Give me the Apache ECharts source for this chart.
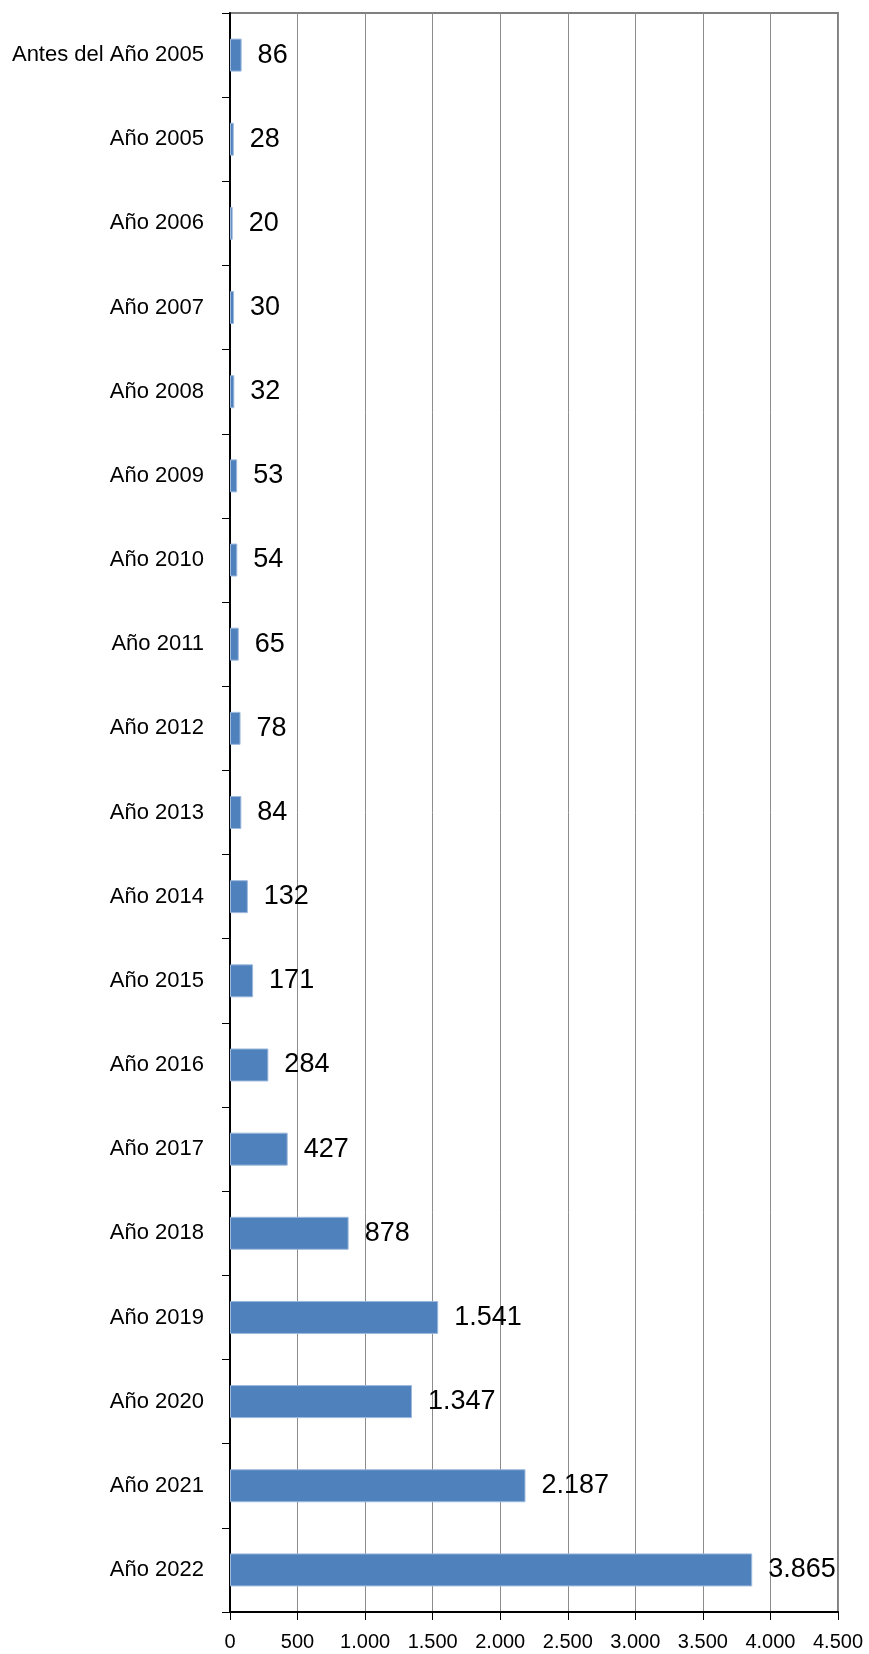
<!DOCTYPE html>
<html>
<head>
<meta charset="utf-8">
<script src="https://cdn.jsdelivr.net/npm/echarts@6/dist/echarts.min.js"></script>
<style>
  html, body { margin: 0; padding: 0; background: #fff; }
</style>
</head>
<body>
<div id="chart" style="width: 869px; height: 1654px;"></div>
<script>
const categories = [
  'Antes del Año 2005', 'Año 2005', 'Año 2006', 'Año 2007', 'Año 2008',
  'Año 2009', 'Año 2010', 'Año 2011', 'Año 2012', 'Año 2013', 'Año 2014',
  'Año 2015', 'Año 2016', 'Año 2017', 'Año 2018', 'Año 2019', 'Año 2020',
  'Año 2021', 'Año 2022',
]
const values = [86, 28, 20, 30, 32, 53, 54, 65, 78, 84, 132, 171, 284, 427, 878, 1541, 1347, 2187, 3865]
const xTicks = { min: 0, max: 4500, interval: 500 }

// thousands with dot, like the source
const fmt = (v) => String(v).replace(/\B(?=(\d{3})+(?!\d))/g, '.')

const font = '"Liberation Sans", Arial, sans-serif'

const myChart = echarts.init(document.getElementById('chart'))
myChart.setOption({
  animation: false,
  grid: {
    left: 230,
    right: 31,
    top: 13,
    bottom: 42,
    show: true,
    borderColor: '#808080',
    borderWidth: 2,
  },
  xAxis: {
    type: 'value',
    min: xTicks.min,
    max: xTicks.max,
    interval: xTicks.interval,
    axisLine: { show: true, lineStyle: { color: '#000', width: 2 } },
    axisTick: { show: true, length: 8, lineStyle: { color: '#000' } },
    axisLabel: {
      color: '#000',
      fontSize: 20,
      fontFamily: font,
      margin: 20,
      formatter: fmt,
    },
    splitLine: { show: true, lineStyle: { color: '#8c8c8c', width: 1 } },
  },
  yAxis: {
    type: 'category',
    inverse: true,
    data: categories,
    axisLine: { show: true, lineStyle: { color: '#000', width: 2 } },
    axisTick: { show: true, length: 8, lineStyle: { color: '#000' } },
    axisLabel: {
      color: '#000',
      fontSize: 22,
      fontFamily: font,
      margin: 26,
    },
    splitLine: { show: false },
  },
  series: [
    {
      type: 'bar',
      data: values,
      barWidth: 33,
      itemStyle: {
        color: '#4F81BD',
        borderColor: '#9DB9DD',
        borderWidth: 1,
      },
      label: {
        show: true,
        position: 'right',
        distance: 16,
        color: '#000',
        fontSize: 27,
        fontFamily: font,
        formatter: (p) => fmt(p.value),
      },
    },
  ],
})
</script>
</body>
</html>
